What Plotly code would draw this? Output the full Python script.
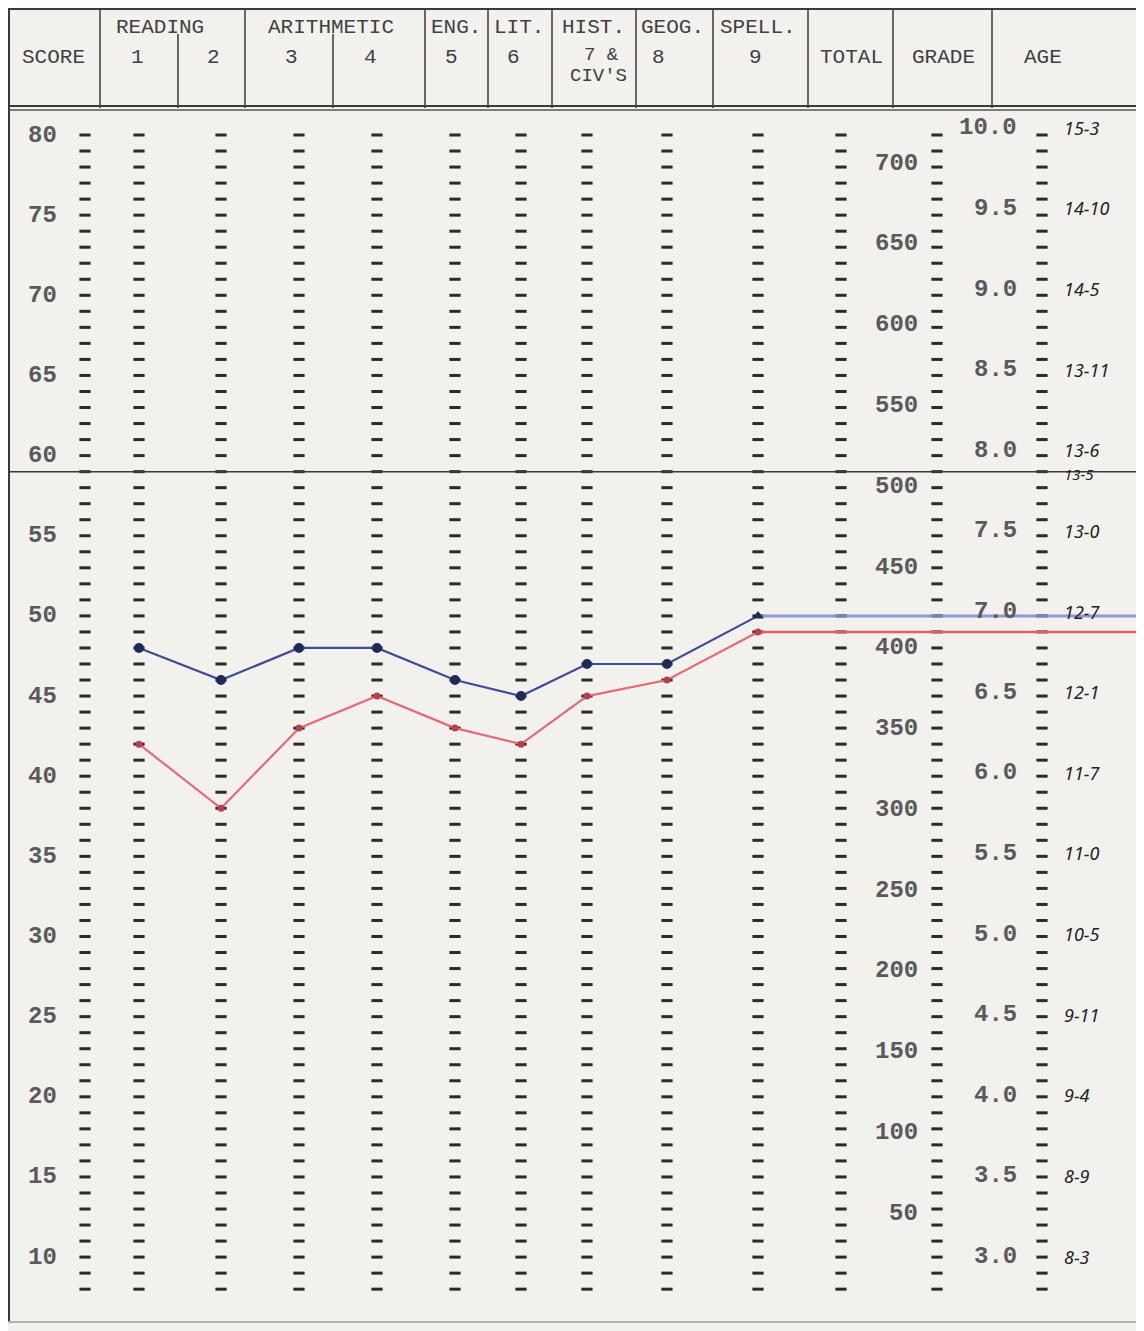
import plotly.graph_objects as go

W, H = 1144, 1331

# ---------------- data ----------------
subjects = ["1", "2", "3", "4", "5", "6", "7", "8", "9"]
blue_scores = [48, 46, 48, 48, 46, 45, 47, 47, 50]
red_scores = [42, 38, 43, 45, 43, 42, 45, 46, 49]
blue_carry = 50          # blue level carried across TOTAL/GRADE/AGE
red_carry = 49           # red level carried across TOTAL/GRADE/AGE
score_ticks = [80, 75, 70, 65, 60, 55, 50, 45, 40, 35, 30, 25, 20, 15, 10]
total_ticks = [700, 650, 600, 550, 500, 450, 400, 350, 300, 250, 200, 150, 100, 50]
grade_ticks = ["10.0", "9.5", "9.0", "8.5", "8.0", "7.5", "7.0", "6.5", "6.0",
               "5.5", "5.0", "4.5", "4.0", "3.5", "3.0"]
age_labels = ["15-3", "14-10", "14-5", "13-11", "13-6", "13-0", "12-7", "12-1",
              "11-7", "11-0", "10-5", "9-11", "9-4", "8-9", "8-3"]
cut_score = 59
cut_age = "13-5"
score_min, score_max = 8, 80

# ---------------- layout helpers ----------------
OFF = 8  # page body margin: the figure starts 8px in from the page corner
col_x = {"score": 85, "1": 139, "2": 221, "3": 299, "4": 377, "5": 455, "6": 521,
         "7": 587, "8": 667, "9": 758, "total": 841, "grade": 937, "age": 1042}
PX_PER_UNIT = 16.03
Y1 = 80 + (135 - OFF) / PX_PER_UNIT
Y0 = 80 - (OFF + H - 135) / PX_PER_UNIT
X0, X1 = OFF, OFF + W
RIGHT_EDGE = 1144


def py(p):  # page pixel from top -> paper y
    return 1 - (p - OFF) / H


def total_to_score(t):
    return 78.25 - (700 - t) * 0.1008


def grade_to_score(g):
    return 10.03 + (g - 3.0) * 10.06


TYPE = "Liberation Mono"
INK = "#404040"
NUM = "#5a5a5a"

fig = go.Figure()

# dotted (dash) scales in every column
dash_scores = list(range(score_max, score_min - 1, -1))
for key, xv in col_x.items():
    fig.add_trace(go.Scatter(
        x=[xv] * len(dash_scores), y=dash_scores, mode="markers",
        marker=dict(symbol="line-ew", size=8, line=dict(width=3, color="#2a2a2a")),
        hoverinfo="skip", showlegend=False))

# reference line
fig.add_shape(type="line", xref="x", yref="y", x0=8, x1=RIGHT_EDGE, y0=cut_score, y1=cut_score,
              line=dict(color="#3a3a3a", width=1.5))

# profile lines
xs = [col_x[s] for s in subjects]
fig.add_trace(go.Scatter(x=[xs[-1], RIGHT_EDGE], y=[red_scores[-1], red_carry], mode="lines",
                         line=dict(color="#e2606c", width=2.5), hoverinfo="skip",
                         showlegend=False))
fig.add_trace(go.Scatter(x=[xs[-1], RIGHT_EDGE], y=[blue_scores[-1], blue_carry], mode="lines",
                         line=dict(color="#8090cc", width=3), opacity=0.9,
                         hoverinfo="skip", showlegend=False))
fig.add_trace(go.Scatter(x=xs, y=red_scores, mode="lines+markers",
                         line=dict(color="#e46a75", width=2.2),
                         marker=dict(color="#b8404c", size=7),
                         showlegend=False))
fig.add_trace(go.Scatter(x=xs, y=blue_scores, mode="lines+markers",
                         line=dict(color="#3c4c98", width=2.2),
                         marker=dict(color="#1e2a58", size=10,
                                     symbol=["circle"] * (len(xs) - 1) + ["triangle-up"]),
                         showlegend=False))

ann = []
numfont = dict(family=TYPE, size=24, color=NUM, weight="bold")
# score labels
for s in score_ticks:
    ann.append(dict(x=59, y=s, xref="x", yref="y", text=str(s), showarrow=False,
                    xanchor="right", yanchor="middle", font=numfont))
# total labels
for t in total_ticks:
    ann.append(dict(x=920, y=total_to_score(t), xref="x", yref="y", text=str(t),
                    showarrow=False, xanchor="right", yanchor="middle", font=numfont))
# grade labels + ages
for g, a in zip(grade_ticks, age_labels):
    ys = grade_to_score(float(g))
    ann.append(dict(x=1019, y=ys, xref="x", yref="y", text=g, showarrow=False,
                    xanchor="right", yanchor="middle", font=numfont))
    ann.append(dict(x=1062, y=ys, xref="x", yref="y", text=a, showarrow=False,
                    xanchor="left", yanchor="middle",
                    font=dict(family="Noto Sans", size=18, color="#222", style="italic")))
ann.append(dict(x=1062, y=cut_score - 0.15, xref="x", yref="y", text=cut_age,
                showarrow=False, xanchor="left", yanchor="middle",
                font=dict(family="Noto Sans", size=15, color="#222", style="italic")))

# header texts
head_top = [("READING", 160), ("ARITHMETIC", 331), ("ENG.", 456), ("LIT.", 519),
            ("HIST.", 593), ("GEOG.", 672), ("SPELL.", 758)]
for t, xv in head_top:
    ann.append(dict(x=xv, y=py(27), xref="x", yref="paper", text=t, showarrow=False,
                    xanchor="center", yanchor="middle",
                    font=dict(family=TYPE, size=21, color=INK)))
head_row = [("SCORE", 53, 57, 21), ("1", 137, 57, 21), ("2", 213, 57, 21),
            ("3", 291, 57, 21), ("4", 370, 57, 21), ("5", 451, 57, 21),
            ("6", 513, 57, 21), ("7 &", 601, 55, 19), ("CIV'S", 598, 76, 19),
            ("8", 658, 57, 21), ("9", 755, 57, 21), ("TOTAL", 851, 57, 21),
            ("GRADE", 943, 57, 21), ("AGE", 1043, 57, 21)]
for t, xv, yv, fs in head_row:
    ann.append(dict(x=xv, y=py(yv), xref="x", yref="paper", text=t, showarrow=False,
                    xanchor="center", yanchor="middle",
                    font=dict(family=TYPE, size=fs, color=INK)))

# header rules
shapes = []
line_c = "#3a3a3a"
shapes.append(dict(type="line", xref="x", yref="paper", x0=8, x1=RIGHT_EDGE, y0=py(9), y1=py(9),
                   line=dict(color=line_c, width=2)))
shapes.append(dict(type="line", xref="x", yref="paper", x0=8, x1=RIGHT_EDGE, y0=py(106), y1=py(106),
                   line=dict(color=line_c, width=2)))
shapes.append(dict(type="line", xref="x", yref="paper", x0=8, x1=RIGHT_EDGE, y0=py(110), y1=py(110),
                   line=dict(color="#555", width=1.5)))
shapes.append(dict(type="line", xref="x", yref="paper", x0=9, x1=9, y0=py(9), y1=py(1322),
                   line=dict(color=line_c, width=2)))
shapes.append(dict(type="line", xref="x", yref="paper", x0=8, x1=RIGHT_EDGE, y0=py(1322), y1=py(1322),
                   line=dict(color="#b0b0b0", width=2)))
for xv, top in [(100, 9), (178, 34), (245, 9), (333, 34), (425, 9), (488, 9), (552, 9),
                (636, 9), (713, 9), (808, 9), (893, 9), (992, 9)]:
    shapes.append(dict(type="line", xref="x", yref="paper", x0=xv, x1=xv,
                       y0=py(top), y1=py(108), line=dict(color=line_c, width=1.5)))
for s in shapes:
    fig.add_shape(**s)

fig.update_layout(
    width=W, height=H, margin=dict(l=0, r=0, t=0, b=0),
    paper_bgcolor="#f2f1ee", plot_bgcolor="#f2f1ee",
    xaxis=dict(range=[X0, X1], visible=False, fixedrange=True),
    yaxis=dict(range=[Y0, Y1], visible=False, fixedrange=True),
    annotations=ann, showlegend=False,
)

fig.write_html("out.html")
